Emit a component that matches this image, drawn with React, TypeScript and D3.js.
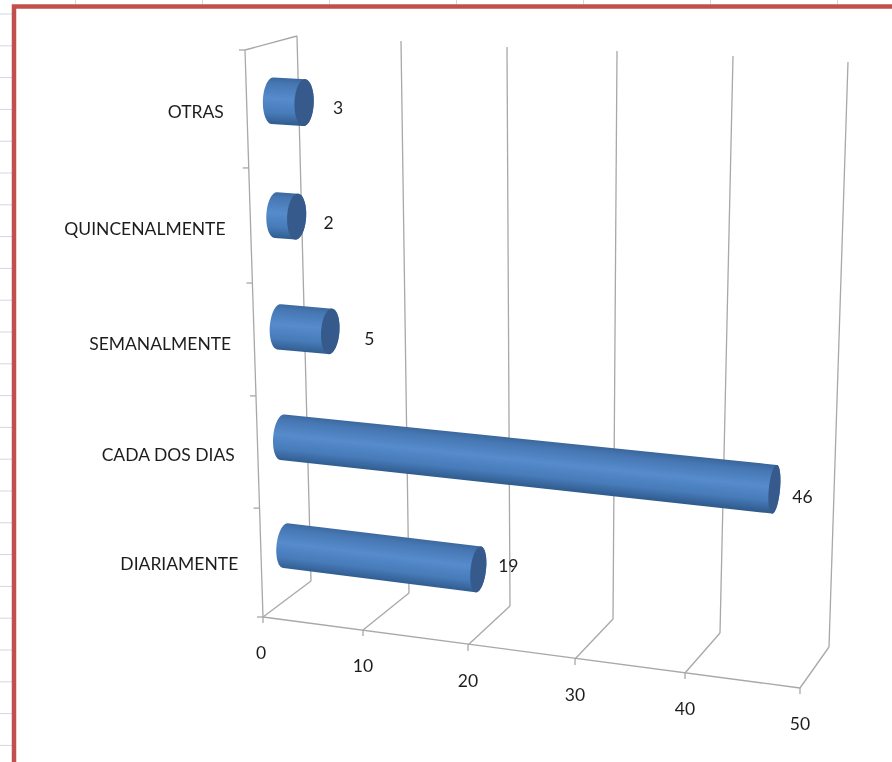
import React from "react";
import * as d3 from "d3";

const categories = ["DIARIAMENTE", "CADA DOS DIAS", "SEMANALMENTE", "QUINCENALMENTE", "OTRAS"];
const values = [19, 46, 5, 2, 3];
const valueTicks = [0, 10, 20, 30, 40, 50];

// Perspective calibration of the 3-D box, one entry per value tick
const frontBottomX = [263, 363, 468, 575, 685, 800];
const frontBottomY = [617, 630, 645, 659, 673, 688];
const backBottomX = [311, 409, 510, 613, 720, 829];
const backBottomY = [581, 593, 606, 619, 633, 647];
const backTopX = [297, 401, 507, 617, 733, 848];
const backTopY = [36, 41, 47, 51, 56, 62];
const frontTopX = [245, 352, 464, 579, 696, 819];
const frontTopY = [50, 56, 62, 69, 75, 81];
const levelFractions = [0, 0.192, 0.39, 0.589, 0.792, 1];
const levels = d3.range(6);

// Hand placement of the data labels relative to the bar ends
const labelDx = [30, 28, 39, 32, 34];
const labelDy = [3, 14, 14, 12, 11];
const categoryDy = [7, 9, 11, 10, 9];
const categoryDx = [-23, -23, -23, -25, -23];

const W = 892;
const H = 762;
const GRID = "#a8a8a8";
const TEXT = "#1f1f1f";
const FONT = "Lato, 'Open Sans', sans-serif";
const FS = 17.5;

const sc = (r: number[]) => d3.scaleLinear().domain(valueTicks).range(r);
const fbx = sc(frontBottomX), fby = sc(frontBottomY), bbx = sc(backBottomX), bby = sc(backBottomY);
const btx = sc(backTopX), bty = sc(backTopY), ftx = sc(frontTopX), fty = sc(frontTopY);
const level = d3.scaleLinear().domain(levels).range(levelFractions);
const lerp = (a: number, b: number, t: number) => a + (b - a) * t;

// v: value, h: category level (0..5), d: depth 0 (front)..1 (back)
function P(v: number, h: number, d: number): [number, number] {
  const t = level(h);
  const fx = lerp(fbx(v), ftx(v), t), fy = lerp(fby(v), fty(v), t);
  const bx = lerp(bbx(v), btx(v), t), by = lerp(bby(v), bty(v), t);
  return [lerp(fx, bx, d), lerp(fy, by, d)];
}

const R_H = 0.2;
const R_D = 0.19;

function circle(v: number, h: number): [number, number][] {
  const [cx, cy] = P(v, h, 0.5);
  const [ux, uy] = P(v, h + R_H, 0.5);
  const [dx, dy] = P(v, h, 0.5 + R_D);
  return d3.range(0, 64).map((i) => {
    const a = (i / 64) * 2 * Math.PI;
    return [
      cx + Math.cos(a) * (ux - cx) + Math.sin(a) * (dx - cx),
      cy + Math.cos(a) * (uy - cy) + Math.sin(a) * (dy - cy),
    ] as [number, number];
  });
}

const closed = d3.line().curve(d3.curveLinearClosed);
const seg = (a: [number, number], b: [number, number], key: string) => (
  <line key={key} x1={a[0]} y1={a[1]} x2={b[0]} y2={b[1]} stroke={GRID} strokeWidth={1.3} />
);

function gradientEnds(v: number, h: number) {
  const s = P(0, h, 0.5);
  const e = P(v, h, 0.5);
  const ax = e[0] - s[0], ay = e[1] - s[1];
  const len = Math.hypot(ax, ay);
  const nx = ay / len, ny = -ax / len; // points upward
  const c = [(s[0] + e[0]) / 2, (s[1] + e[1]) / 2];
  const r = 24;
  return { x1: c[0] + nx * r, y1: c[1] + ny * r, x2: c[0] - nx * r, y2: c[1] - ny * r };
}

export default function App() {
  const rows = d3.range(0, 24).map((i) => 14 + i * 31.8);
  const cols = d3.range(0, 7).map((i) => 75.5 + i * 127);
  return (
    <svg width={W} height={H} viewBox={`0 0 ${W} ${H}`} style={{ position: "absolute", left: 0, top: 0 }}>
      <defs>
        {values.map((v, i) => (
          <linearGradient key={i} id={`g${i}`} gradientUnits="userSpaceOnUse" {...gradientEnds(v, i + 0.5)}>
            <stop offset="0" stopColor="#3b669b" />
            <stop offset="0.14" stopColor="#4677b3" />
            <stop offset="0.45" stopColor="#568bcc" />
            <stop offset="0.75" stopColor="#477bb9" />
            <stop offset="1" stopColor="#2f5a8c" />
          </linearGradient>
        ))}
        <filter id="soft" x="0" y="0" width="100%" height="100%" filterUnits="objectBoundingBox">
          <feGaussianBlur stdDeviation="0.4" />
        </filter>
      </defs>
      <rect width={W} height={H} fill="#ffffff" />
      <g filter="url(#soft)">
        <rect width={W} height={H} fill="#ffffff" />
        {rows.map((y) => (
          <line key={y} x1={0} x2={12} y1={y} y2={y} stroke="#d0d7e5" />
        ))}
        {cols.map((x) => (
          <line key={x} x1={x} x2={x} y1={0} y2={4} stroke="#d0d7e5" />
        ))}
        <path d={`M14 ${H} V6.5 H${W}`} fill="none" stroke="#c0504d" strokeWidth={4.5} />

        {/* walls and floor */}
        {valueTicks.map((v) => (
          <g key={v}>
            {seg(P(v, 0, 1), P(v, 5, 1), `w${v}`)}
            {seg(P(v, 0, 0), P(v, 0, 1), `f${v}`)}
            {seg(P(v, 0, 0), [P(v, 0, 0)[0], P(v, 0, 0)[1] + 6], `t${v}`)}
            <text x={fbx(v) - (v === 0 ? 2 : 0)} y={fby(v) + 42} textAnchor="middle" fontFamily={FONT} fontSize={FS} fill={TEXT}>
              {v}
            </text>
          </g>
        ))}
        {seg(P(0, 0, 0), P(0, 5, 0), "leftEdge")}
        {seg(P(0, 5, 0), P(0, 5, 1), "leftTop")}
        {seg(P(0, 0, 0), P(50, 0, 0), "frontEdge")}
        {levels.map((l) => {
          const p = P(0, l, 0);
          return seg(p, [p[0] - 6, p[1]], `c${l}`);
        })}

        {/* cylinders */}
        {values.map((v, i) => {
          const h = i + 0.5;
          const start = circle(0, h);
          const end = circle(v, h);
          const hull = d3.polygonHull([...start, ...end]) as [number, number][];
          return (
            <g key={categories[i]}>
              <path d={closed(hull) as string} fill={`url(#g${i})`} />
              <path d={closed(end) as string} fill="#345a8b" />
            </g>
          );
        })}

        {/* labels */}
        {categories.map((c, i) => {
          const p = P(0, i + 0.5, 0);
          return (
            <text key={c} x={p[0] + categoryDx[i]} y={p[1] + categoryDy[i]} textAnchor="end" fontFamily={FONT} fontSize={FS} fill={TEXT}>
              {c}
            </text>
          );
        })}
        {values.map((v, i) => {
          const p = P(v, i + 0.5, 0.5);
          return (
            <text key={i} x={p[0] + labelDx[i]} y={p[1] + labelDy[i]} textAnchor="middle" fontFamily={FONT} fontSize={FS} fill={TEXT}>
              {v}
            </text>
          );
        })}
      </g>
    </svg>
  );
}
